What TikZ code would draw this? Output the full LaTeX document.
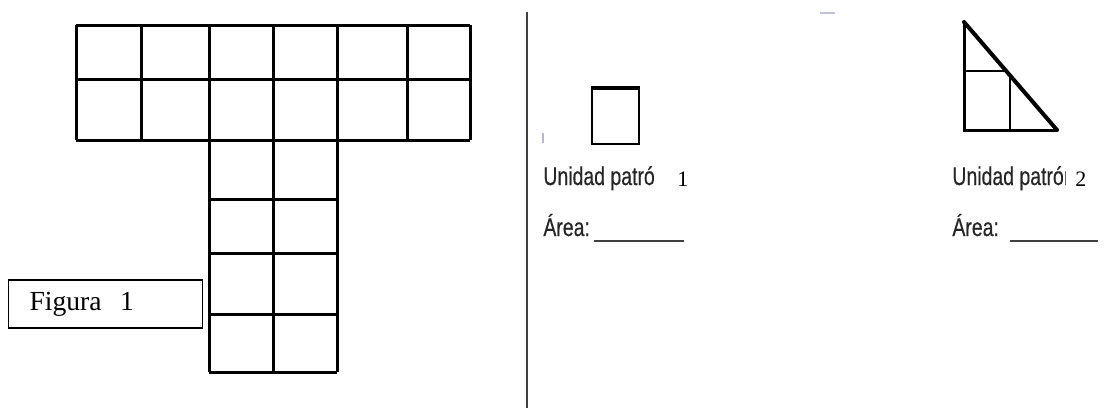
\documentclass[tikz,border=0pt]{standalone}
\usepackage{fontspec}
\setmainfont{Liberation Serif}
\newfontfamily\narrowsans[FakeStretch=0.76,FakeBold=0.35]{Liberation Sans}

\tikzset{
  gridline/.style={line width=1.5pt,line cap=square},
  unitline/.style={line width=1.3pt,line cap=square},
  labeltext/.style={inner sep=0,anchor=base west,text=black!85,
    font=\narrowsans\fontsize{12.8}{14}\selectfont},
  numtext/.style={inner sep=0,anchor=base west,
    font=\fontsize{11}{13}\selectfont},
  blank/.style={line width=.8pt,black!75},
}

\begin{document}
\begin{tikzpicture}[x=0.5pt,y=-0.5pt]
  \useasboundingbox (0,0) rectangle (1107,408);
  % figure 1: the T
  \foreach \x in {76,141,209,273,337,407,470}
    \draw[gridline] (\x,25) -- (\x,140);
  \foreach \y in {25,79,140}
    \draw[gridline] (76,\y) -- (470,\y);
  \foreach \x in {209,273,337}
    \draw[gridline] (\x,140) -- (\x,372);
  \foreach \y in {199,253,314,372}
    \draw[gridline] (209,\y) -- (337,\y);
  \node[draw,line width=.6pt,anchor=west,minimum width=97pt,minimum height=24pt,
    inner xsep=10.5pt,text width=76pt,align=left,font=\fontsize{13.8}{15}\selectfont]
    (figbox) at (8,304) {Figura\ \ 1};
  % divider
  \draw[line width=1pt,black!75] (527,12) -- (527,408);
  \draw[line width=.6pt,blue!25!gray!45] (543,133) -- (543,143);
  \draw[line width=1pt,blue!25!gray!40] (820,13) -- (835,13);
  % unit 1: square
  \draw[unitline] (592,88) rectangle (639,144);
  \draw[line width=2pt] (591,88) -- (640,88);
  \begin{scope}
    \clip (538,150) rectangle (654,200);
    \node[labeltext] (unit1) at (543,185) {Unidad patrón};
  \end{scope}
  \node[numtext] (num1) at (677,186) {1};
  \node[labeltext] (area1) at (543,236) {Área:};
  \draw[blank] (594,241) -- (684,241);
  % unit 2: triangle
  \coordinate (top) at (964,22);
  \coordinate (corner) at (964,130);
  \coordinate (right) at (1057,130);
  \draw[gridline] (top) -- (corner) -- (right);
  \draw[line width=2pt,line cap=round] (top) -- (right);
  \draw[unitline,line cap=butt] (964,71) -- (1006,71);
  \draw[unitline,line cap=butt] (1010,75) -- (1010,130);
  \begin{scope}
    \clip (948,150) rectangle (1065.5,200);
    \node[labeltext] (unit2) at (952,185) {Unidad patrón};
  \end{scope}
  \node[numtext] (num2) at (1075,186) {2};
  \node[labeltext] (area2) at (952,236) {Área:};
  \draw[blank] (1010,241) -- (1098,241);
\end{tikzpicture}
\end{document}
